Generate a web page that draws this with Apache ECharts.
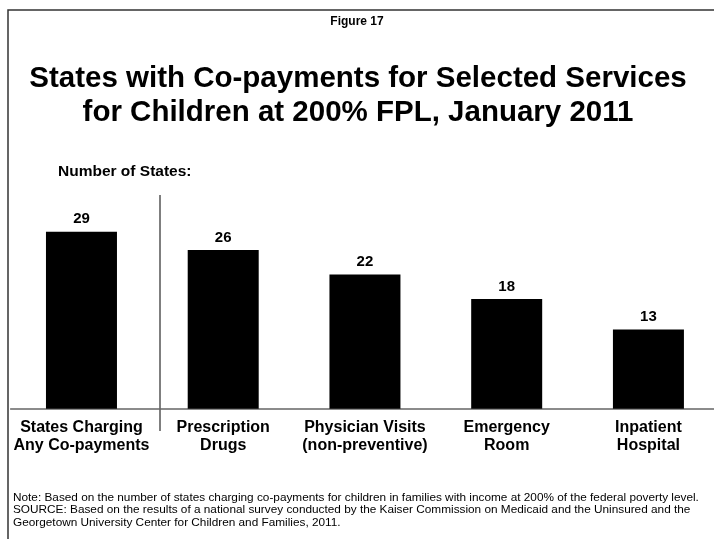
<!DOCTYPE html>
<html>
<head>
<meta charset="utf-8">
<script src="https://cdn.jsdelivr.net/npm/echarts@6/dist/echarts.min.js"></script>
<style>html,body{margin:0;padding:0;background:#fff;overflow:hidden}#c{width:720px;height:539px}</style>
</head>
<body>
<div id="c"></div>
<script>
const categories = ['States Charging\nAny Co-payments', 'Prescription\nDrugs', 'Physician Visits\n(non-preventive)', 'Emergency\nRoom', 'Inpatient\nHospital'];
const values = [29, 26, 22, 18, 13];
const figureLabel = 'Figure 17';
const titleText = 'States with Co-payments for Selected Services\nfor Children at 200% FPL, January 2011';
const axisNote = 'Number of States:';
const footnote = 'Note: Based on the number of states charging co-payments for children in families with income at 200% of the federal poverty level.\nSOURCE: Based on the results of a national survey conducted by the Kaiser Commission on Medicaid and the Uninsured and the\nGeorgetown University Center for Children and Families, 2011.';

const FONT = "'Liberation Sans', Arial, Helvetica, sans-serif";
const chart = echarts.init(document.getElementById('c'));
chart.setOption({
  animation: false,
  backgroundColor: '#fff',
  title: [
    { text: figureLabel, left: 352, textAlign: 'center', top: 11, textStyle: { fontFamily: FONT, fontSize: 12, fontWeight: 'bold', color: '#000' } },
    { text: titleText, left: 353, textAlign: 'center', top: 57, textStyle: { fontFamily: FONT, fontSize: 29.5, fontWeight: 'bold', color: '#000', lineHeight: 34 } },
    { text: axisNote, left: 53, top: 159, textStyle: { fontFamily: FONT, fontSize: 15.5, fontWeight: 'bold', color: '#000' } },
    { text: footnote, left: 8, top: 486, textStyle: { fontFamily: FONT, fontSize: 11.8, fontWeight: 'normal', color: '#000', lineHeight: 12.5 } }
  ],
  grid: { left: 10.6, right: 0.7, top: 225.7, height: 183, containLabel: false },
  xAxis: {
    type: 'category', data: categories,
    axisLine: { lineStyle: { color: '#666', width: 1.5 } },
    axisTick: { show: false },
    axisLabel: { interval: 0, margin: 10, fontFamily: FONT, fontSize: 16, fontWeight: 'bold', color: '#000', lineHeight: 18 }
  },
  yAxis: { type: 'value', min: 0, max: 30, show: false, splitLine: { show: false } },
  series: [{
    type: 'bar', data: values, barWidth: 71,
    itemStyle: { color: '#000' },
    label: { show: true, position: 'top', distance: 5, fontFamily: FONT, fontSize: 15, fontWeight: 'bold', color: '#000' }
  }],
  graphic: [
    { type: 'polyline', shape: { points: [[8, 539], [8, 10], [720, 10]] }, style: { stroke: '#333', lineWidth: 1.5, fill: null } },
    { type: 'line', shape: { x1: 160, y1: 195, x2: 160, y2: 431 }, style: { stroke: '#555', lineWidth: 1.5 } }
  ]
});
</script>
</body>
</html>
